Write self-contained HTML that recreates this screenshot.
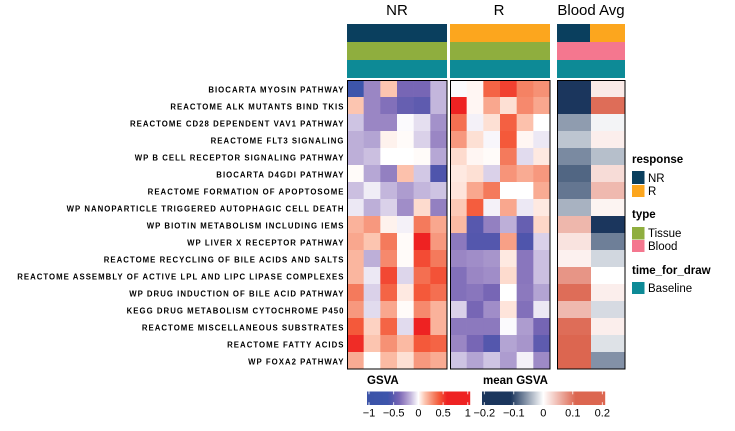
<!DOCTYPE html>
<html>
<head>
<meta charset="utf-8">
<style>
html,body{margin:0;padding:0;background:#fff;width:735px;height:431px;overflow:hidden}
svg{display:block;font-family:"Liberation Sans",sans-serif}
</style>
</head>
<body>
<svg id="chart" width="735" height="431" viewBox="0 0 735 431" xmlns="http://www.w3.org/2000/svg">
  <rect x="0" y="0" width="735" height="431" fill="#fff"/>
  <g id="titles" font-size="15" fill="#000" text-anchor="middle">
    <text x="397" y="15">NR</text>
    <text x="499" y="15">R</text>
    <text x="591" y="15">Blood Avg</text>
  </g>
  <g id="annotations"></g>
  <g id="rowLabels"></g>
  <g id="cells"></g>
  <g id="frames"></g>
  <g id="legends">
    <g font-size="11.5">
      <text x="632" y="163" font-weight="bold">response</text>
      <rect x="632" y="171" width="12.5" height="13" fill="#0a3f5e"/>
      <text x="648" y="182">NR</text>
      <rect x="632" y="185" width="12.5" height="12" fill="#fca61e"/>
      <text x="648" y="195">R</text>
    </g>
    <g font-size="11.5">
      <text x="632" y="218" font-weight="bold">type</text>
      <rect x="632" y="227" width="12.5" height="12.5" fill="#8fae3e"/>
      <text x="648" y="237">Tissue</text>
      <rect x="632" y="240" width="12.5" height="12" fill="#f4778f"/>
      <text x="648" y="250">Blood</text>
    </g>
    <g font-size="11.5">
      <text x="632" y="274" font-weight="bold">time_for_draw</text>
      <rect x="632" y="282" width="12.5" height="12" fill="#0d8a96"/>
      <text x="648" y="292">Baseline</text>
    </g>
    <text x="367" y="384" font-size="11.5" font-weight="bold">GSVA</text>
    <text x="483" y="384" font-size="11.5" font-weight="bold">mean GSVA</text>
    <g id="gsvaBar"></g>
    <g id="meanBar"></g>
  </g>
</svg>
<script>
const pathways = ["BIOCARTA MYOSIN PATHWAY","REACTOME ALK MUTANTS BIND TKIS","REACTOME CD28 DEPENDENT VAV1 PATHWAY","REACTOME FLT3 SIGNALING","WP B CELL RECEPTOR SIGNALING PATHWAY","BIOCARTA D4GDI PATHWAY","REACTOME FORMATION OF APOPTOSOME","WP NANOPARTICLE TRIGGERED AUTOPHAGIC CELL DEATH","WP BIOTIN METABOLISM INCLUDING IEMS","WP LIVER X RECEPTOR PATHWAY","REACTOME RECYCLING OF BILE ACIDS AND SALTS","REACTOME ASSEMBLY OF ACTIVE LPL AND LIPC LIPASE COMPLEXES","WP DRUG INDUCTION OF BILE ACID PATHWAY","KEGG DRUG METABOLISM CYTOCHROME P450","REACTOME MISCELLANEOUS SUBSTRATES","REACTOME FATTY ACIDS","WP FOXA2 PATHWAY"];

const nrValues = [
[-.62,-.29,.13,-.39,-.39,-.16],
[.13,-.29,-.36,-.46,-.49,-.16],
[-.13,-.29,-.29,-.01,-.07,-.26],
[-.18,-.21,.03,.01,-.1,-.29],
[-.18,-.14,0,0,.01,-.2],
[.01,-.2,-.31,.14,-.12,-.55],
[-.14,-.04,-.16,-.23,-.16,-.13],
[-.05,-.18,-.1,-.27,.08,-.31],
[.18,.25,.03,-.03,.33,.21],
[.21,.13,.33,.01,.62,.25],
[.17,-.18,.29,.01,.46,.33],
[.17,-.05,.47,-.09,.36,.44],
[.33,-.1,.39,.05,.42,.36],
[.25,-.08,.21,.01,.29,.18],
[.42,.1,.39,-.08,.58,.18],
[.55,.13,.27,.16,.42,.39],
[.2,0,.16,.07,.25,.2]
];

const rValues = [
[-.01,.02,.39,.49,.31,.27],
[.58,.02,.21,.07,.29,.21],
[.36,-.03,.07,.4,.14,0],
[.25,.07,-.02,.42,.02,-.05],
[.08,.02,.01,.33,-.08,.05],
[.05,.07,-.1,.26,.2,.25],
[.06,.21,.33,0,0,.2],
[.12,.41,-.03,.21,-.05,.05],
[.16,-.52,-.31,-.18,-.46,.09],
[-.33,-.53,-.53,.23,-.55,-.1],
[-.29,-.27,-.25,.05,-.34,-.14],
[-.36,-.29,-.27,.08,-.34,-.14],
[-.36,-.34,-.39,0,-.33,-.21],
[-.1,-.39,-.27,.06,-.36,-.05],
[-.33,-.33,-.33,-.01,-.23,-.4],
[-.29,-.39,-.53,-.21,-.25,-.49],
[-.13,-.21,-.13,-.23,-.03,-.28]
];

const bloodValues = [
[-.2,.015],
[-.2,.105],
[-.054,-.006],
[-.032,.012],
[-.064,-.035],
[-.084,.025],
[-.075,.05],
[-.042,.008],
[.052,-.2],
[.02,-.07],
[.01,-.022],
[.076,0],
[.105,.012],
[.05,-.02],
[.105,.012],
[.11,-.016],
[.11,-.06]
];

const gsvaTicks = [-1,-0.5,0,0.5,1];
const gsvaTickLabels = ["\u22121","\u22120.5","0","0.5","1"];
const meanTicks = [-0.2,-0.1,0,0.1,0.2];
const meanTickLabels = ["\u22120.2","\u22120.1","0","0.1","0.2"];

const NS = "http://www.w3.org/2000/svg";

function mk(tag, attrs, parent) {
  const el = document.createElementNS(NS, tag);
  for (const k in attrs) el.setAttribute(k, attrs[k]);
  parent.appendChild(el);
  return el;
}
function hex(c) { return [1,3,5].map(i => parseInt(c.substr(i,2),16)); }
function ramp(stops, v) {
  if (v <= stops[0][0]) return stops[0][1];
  for (let i = 1; i < stops.length; i++) {
    if (v <= stops[i][0]) {
      const t = (v - stops[i-1][0]) / (stops[i][0] - stops[i-1][0]);
      const a = hex(stops[i-1][1]), b = hex(stops[i][1]);
      return "rgb(" + a.map((x,j) => Math.round(x + (b[j]-x)*t)).join(",") + ")";
    }
  }
  return stops[stops.length-1][1];
}
const gsvaStops = [[-1,"#3b53a8"],[-.62,"#3d55ab"],[-.55,"#4f55ac"],[-.39,"#7766b5"],[-.29,"#9a86c4"],[-.16,"#c3b6dc"],[0,"#ffffff"],[.13,"#fcc5b0"],[.33,"#f47a5c"],[.42,"#f4593a"],[.58,"#ee2222"],[1,"#ee2222"]];
const meanStops = [[-.2,"#1b365d"],[-.11,"#1b365d"],[0,"#ffffff"],[.11,"#dc6650"],[.2,"#dc6650"]];
function gsvaColor(v) { return ramp(gsvaStops, v); }
function meanColor(v) { return ramp(meanStops, v); }

const rowTop = 80, rowH = 17;
function yRow(i) { return rowTop + i * rowH; }

const panels = [
  {key:"nr", x0:347, x1:447, values:nrValues, color:gsvaColor, fills:["#0a3f5e","#8fae3e","#0d8a96"]},
  {key:"r", x0:450, x1:550, values:rValues, color:gsvaColor, fills:["#fca61e","#8fae3e","#0d8a96"]},
  {key:"blood", x0:557, x1:625, values:bloodValues, color:meanColor, fills:[null,"#f4778f","#0d8a96"]}
];

/* annotation bars */
const gAnn = document.getElementById("annotations");
const annTops = [24,42,60];
panels.forEach(p => {
  p.fills.forEach((f,i) => {
    if (f) {
      const r = mk("rect",{x:p.x0,y:annTops[i],width:p.x1-p.x0,height:18,fill:f,"shape-rendering":"crispEdges"},gAnn);
      
      
    }
  });
});
const annNr = mk("rect",{x:557,y:24,width:33,height:18,fill:"#0a3f5e","shape-rendering":"crispEdges"},gAnn);


const annR = mk("rect",{x:590,y:24,width:35,height:18,fill:"#fca61e","shape-rendering":"crispEdges"},gAnn);



/* row labels */
const gLab = document.getElementById("rowLabels");
pathways.forEach((name,i) => {
  const t = mk("text",{x:344.5,y:yRow(i)+12.6,"text-anchor":"end","font-size":"7.8","font-weight":"bold","letter-spacing":"1.03",fill:"#000"},gLab);
  t.textContent = name;
  
  
});

/* cells */
const gCells = document.getElementById("cells");
const gFrames = document.getElementById("frames");
panels.forEach(p => {
  const nCols = p.values[0].length;
  const w = (p.x1 - p.x0) / nCols;
  const xCol = j => p.x0 + j * w;
  p.values.forEach((row,i) => {
    row.forEach((v,j) => {
      const r = mk("rect",{x:xCol(j),y:yRow(i),width:w+0.3,height:rowH+0.3,fill:p.color(v)},gCells);
      
      
    });
  });
  const f = mk("rect",{x:p.x0+0.5,y:rowTop+0.5,width:p.x1-p.x0-0.5,height:rowH*p.values.length-0.5,fill:"none",stroke:"#000","stroke-width":"1","shape-rendering":"crispEdges"},gFrames);
  
  
});

/* colour bars */
function drawBar(group, x0, x1, xScale, invert, color, ticks, labels) {
  const y = 391.5, h = 13.5, n = Math.round(x1 - x0);
  for (let i = 0; i < n; i++) {
    const px = x0 + i;
    const s = mk("rect",{x:px,y:y,width:1.2,height:h,fill:color(invert(px+0.5))},group);
    
    
  }
  ticks.forEach((tv,i) => {
    const x = xScale(tv);
    const a = mk("line",{x1:x,x2:x,y1:y,y2:y+2.8,stroke:"#fff","stroke-width":"0.8"},group);
    
    
    const b = mk("line",{x1:x,x2:x,y1:y+h-2.8,y2:y+h,stroke:"#fff","stroke-width":"0.8"},group);
    
    
    const t = mk("text",{x:x,y:416.5,"text-anchor":"middle","font-size":"11",fill:"#000"},group);
    t.textContent = labels[i];
    
    
  });
}
const xGsva = v => 418.4 + v * 49.4;
const invGsva = px => (px - 418.4) / 49.4;
const xMean = v => 543.3 + v * 295;
const invMean = px => (px - 543.3) / 295;
drawBar(document.getElementById("gsvaBar"), 367, 470, xGsva, invGsva, gsvaColor, gsvaTicks, gsvaTickLabels);
drawBar(document.getElementById("meanBar"), 482, 605, xMean, invMean, meanColor, meanTicks, meanTickLabels);
</script>
</body>
</html>
